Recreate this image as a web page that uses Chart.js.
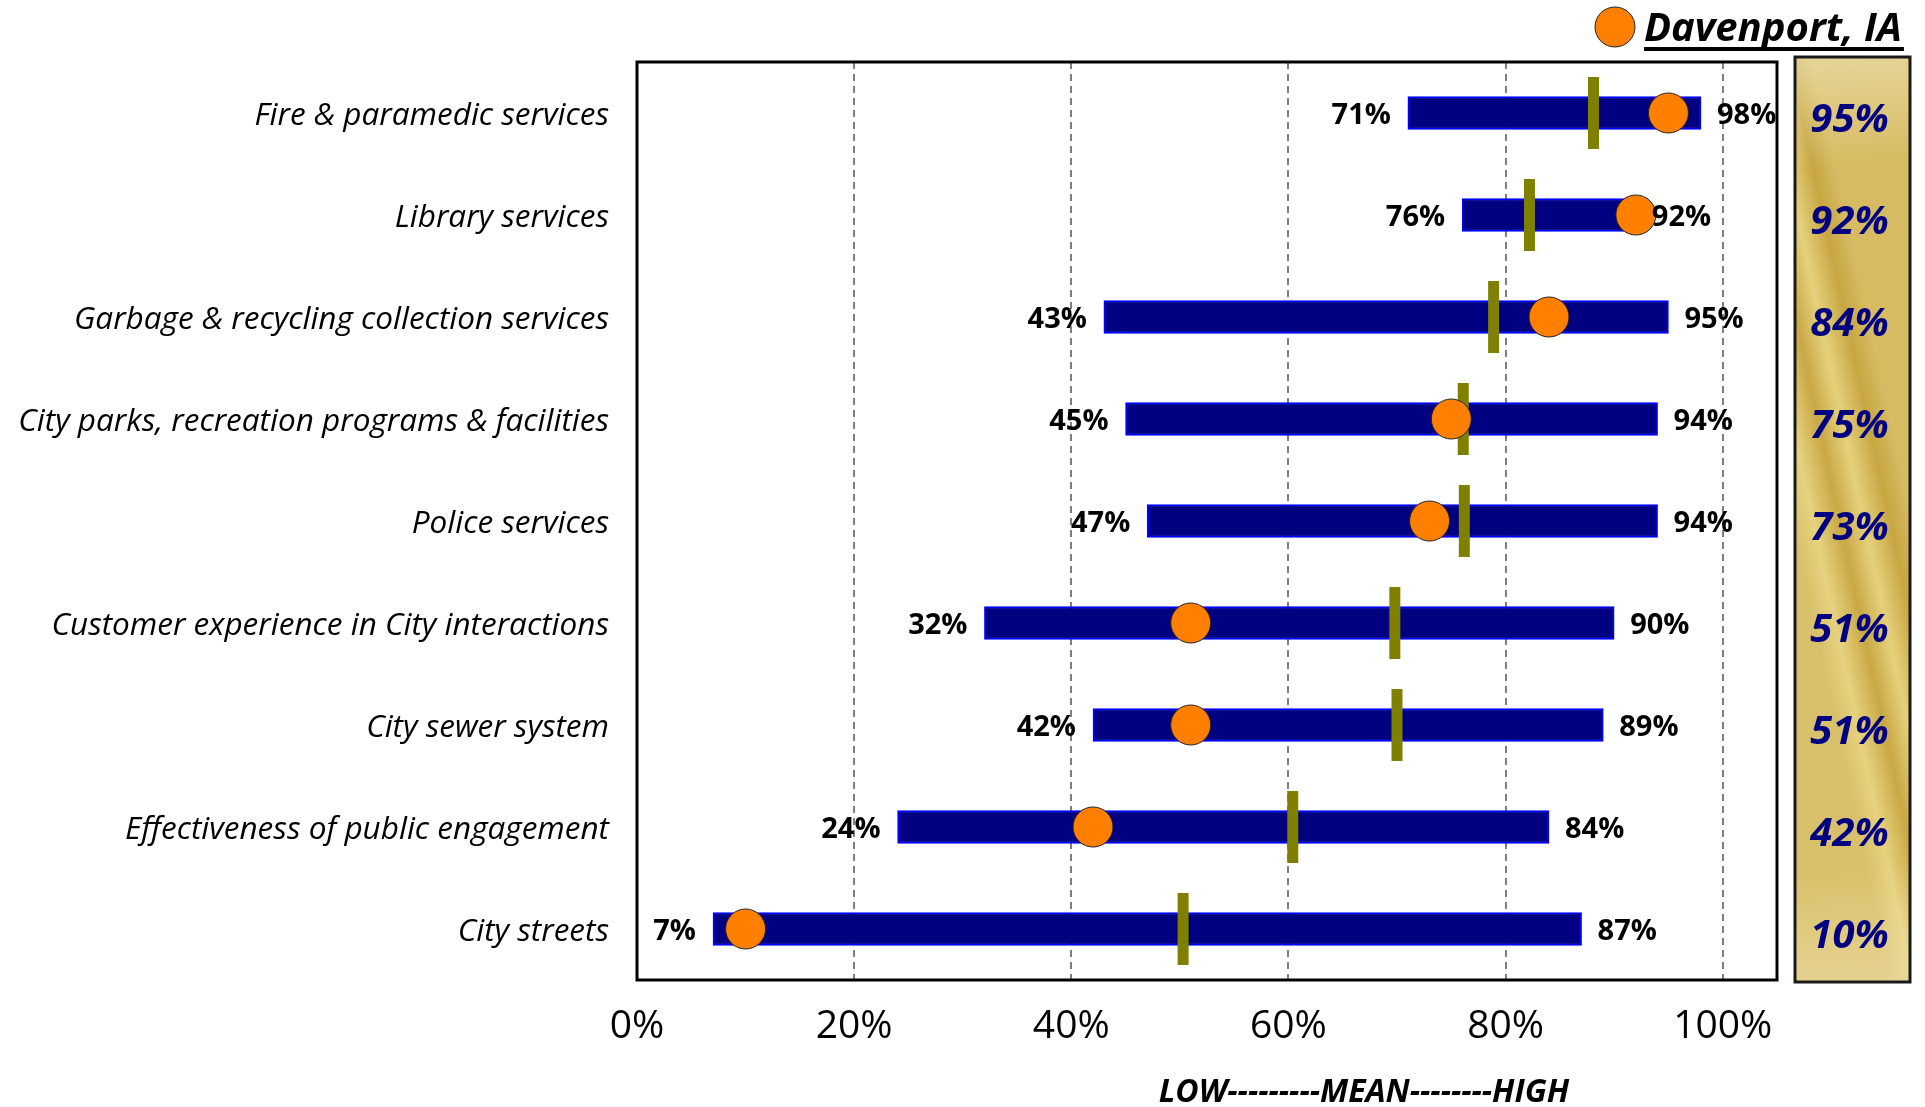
<!DOCTYPE html>
<html>
<head>
<meta charset="utf-8">
<script src="https://cdn.jsdelivr.net/npm/chart.js@4/dist/chart.umd.min.js"></script>
<style>
  html, body { margin: 0; padding: 0; background: #ffffff; }
  #wrap { position: relative; width: 1925px; height: 1107px; }
</style>
</head>
<body>
<div id="wrap"><canvas id="c" width="1925" height="1107"></canvas></div>
<script>
// ---- Data ----
const categories = [
  "Fire & paramedic services",
  "Library services",
  "Garbage & recycling collection services",
  "City parks, recreation programs & facilities",
  "Police services",
  "Customer experience in City interactions",
  "City sewer system",
  "Effectiveness of public engagement",
  "City streets"
];
const lowValues  = [71, 76, 43, 45, 47, 32, 42, 24, 7];
const highValues = [98, 92, 95, 94, 94, 90, 89, 84, 87];
const meanValues = [88.1, 82.2, 78.9, 76.1, 76.2, 69.8, 70.0, 60.4, 50.3];
const davenportValues = [95, 92, 84, 75, 73, 51, 51, 42, 10];
const xTickValues = [0, 20, 40, 60, 80, 100];
const legendLabel = "Davenport, IA";
const axisTitle = "LOW---------MEAN--------HIGH";

// ---- Plugins ----
const decorPlugin = {
  id: 'decor',
  afterDatasetsDraw(chart) {
    const ctx = chart.ctx;
    const meta = chart.getDatasetMeta(0);
    ctx.save();
    ctx.fillStyle = '#000000';
    ctx.font = 'bold 29px "Open Sans"';
    ctx.textBaseline = 'middle';
    meta.data.forEach((bar, i) => {
      const left = Math.min(bar.x, bar.base);
      const right = Math.max(bar.x, bar.base);
      ctx.textAlign = 'right';
      ctx.fillText(lowValues[i] + '%', left - 17, bar.y + 3);
      ctx.textAlign = 'left';
      ctx.fillText(highValues[i] + '%', right + 16, bar.y + 3);
    });
    ctx.restore();
  },
  afterDraw(chart) {
    const ctx = chart.ctx;
    const a = chart.chartArea;
    const yScale = chart.scales.y;
    ctx.save();
    // plot box
    ctx.strokeStyle = '#000000';
    ctx.lineWidth = 3;
    ctx.strokeRect(a.left, a.top, a.right - a.left, a.bottom - a.top);

    // gold box
    const gx = 1795, gy = 57, gw = 115, gh = 925;
    const g = ctx.createLinearGradient(gx, gy + 480, gx + gw, gy + 455);
    g.addColorStop(0.00, '#D9C06A');
    g.addColorStop(0.18, '#E6D27F');
    g.addColorStop(0.40, '#C9A845');
    g.addColorStop(0.60, '#E5D17C');
    g.addColorStop(0.82, '#C7A642');
    g.addColorStop(1.00, '#D6BB62');
    ctx.fillStyle = g;
    ctx.fillRect(gx, gy, gw, gh);
    const g2 = ctx.createLinearGradient(gx, gy, gx + gw * 0.5, gy + gh);
    g2.addColorStop(0.0, 'rgba(245,235,200,0.55)');
    g2.addColorStop(0.12, 'rgba(245,235,200,0.0)');
    g2.addColorStop(0.88, 'rgba(245,235,200,0.0)');
    g2.addColorStop(1.0, 'rgba(240,228,180,0.5)');
    ctx.fillStyle = g2;
    ctx.fillRect(gx, gy, gw, gh);
    ctx.strokeStyle = '#1a1a1a';
    ctx.lineWidth = 3;
    ctx.strokeRect(gx, gy, gw, gh);

    ctx.fillStyle = '#000080';
    ctx.font = 'italic bold 40px "Open Sans"';
    ctx.textAlign = 'center';
    ctx.textBaseline = 'middle';
    davenportValues.forEach((v, i) => {
      ctx.fillText(v + '%', gx + gw / 2 - 3, yScale.getPixelForValue(i) + 8);
    });

    // legend
    ctx.beginPath();
    ctx.arc(1615, 27, 20, 0, Math.PI * 2);
    ctx.fillStyle = '#FF8000';
    ctx.fill();
    ctx.lineWidth = 1;
    ctx.strokeStyle = '#222222';
    ctx.stroke();
    ctx.fillStyle = '#000000';
    ctx.font = 'italic bold 40px "Open Sans"';
    ctx.textAlign = 'left';
    ctx.textBaseline = 'alphabetic';
    ctx.fillText(legendLabel, 1644, 41);
    const lw = ctx.measureText(legendLabel).width;
    ctx.fillRect(1644, 47, lw + 2, 4);

    // bottom title
    ctx.font = 'italic bold 32px "Open Sans"';
    ctx.textAlign = 'center';
    ctx.textBaseline = 'middle';
    ctx.fillText(axisTitle, 1364, 1093);
    ctx.restore();
  }
};

new Chart(document.getElementById('c'), {
  type: 'bar',
  data: {
    labels: categories,
    datasets: [
      {
        label: 'Range',
        data: lowValues.map((lo, i) => [lo, highValues[i]]),
        backgroundColor: '#000080',
        borderColor: '#0000FF',
        borderWidth: 2,
        borderSkipped: false,
        barThickness: 33,
        order: 3
      },
      {
        type: 'line',
        label: 'Mean',
        indexAxis: 'y',
        data: meanValues.map((m, i) => ({ x: m, y: categories[i] })),
        showLine: false,
        pointStyle: 'line',
        rotation: 90,
        pointRadius: 36,
        pointHoverRadius: 36,
        borderColor: '#808000',
        pointBorderColor: '#808000',
        pointBorderWidth: 11,
        pointHoverBorderWidth: 11,
        order: 2
      },
      {
        type: 'line',
        label: legendLabel,
        indexAxis: 'y',
        data: davenportValues.map((d, i) => ({ x: d, y: categories[i] })),
        showLine: false,
        pointStyle: 'circle',
        pointRadius: 20,
        pointHoverRadius: 20,
        pointBackgroundColor: '#FF8000',
        pointBorderColor: '#222222',
        pointBorderWidth: 1,
        order: 1
      }
    ]
  },
  options: {
    indexAxis: 'y',
    responsive: false,
    animation: false,
    events: [],
    layout: { padding: { left: 0, top: 62, right: 148, bottom: 0 } },
    plugins: {
      legend: { display: false },
      tooltip: { enabled: false }
    },
    scales: {
      x: {
        type: 'linear',
        min: 0,
        max: 105,
        afterBuildTicks: (scale) => {
          scale.ticks = xTickValues.map(v => ({ value: v }));
        },
        afterFit: (scale) => { scale.height = 127; },
        ticks: {
          padding: 23,
          color: '#000000',
          font: { family: '"Open Sans"', size: 39 },
          callback: (v) => v + '%',
          maxRotation: 0
        },
        grid: {
          drawTicks: false,
          color: (c) => (c.tick && c.tick.value === 0) ? 'rgba(0,0,0,0)' : '#7f7f7f',
          lineWidth: 2
        },
        border: { display: false, dash: [7, 5] }
      },
      y: {
        type: 'category',
        afterFit: (scale) => { scale.width = 637; },
        ticks: {
          padding: 28,
          labelOffset: 3,
          color: '#000000',
          font: { family: '"Open Sans"', size: 31.5, style: 'italic' }
        },
        grid: { display: false, drawTicks: false },
        border: { display: false }
      }
    }
  },
  plugins: [decorPlugin]
});
</script>
</body>
</html>
